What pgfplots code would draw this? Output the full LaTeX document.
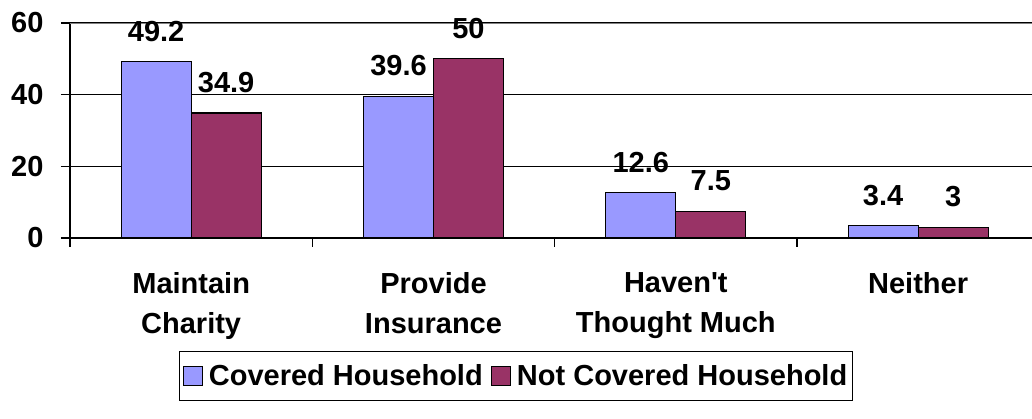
\documentclass[border=0pt]{standalone}
\usepackage{fontspec}
\setmainfont{Liberation Sans}
\newfontfamily\straight{Liberation Sans}
\usepackage{pgfplots}
\pgfplotsset{compat=1.18}
\definecolor{covc}{RGB}{153,153,255}
\definecolor{notc}{RGB}{153,51,102}
\begin{document}
\begin{tikzpicture}
\useasboundingbox (-70pt,-181pt) rectangle (962pt,238pt);
\begin{axis}[
  at={(0,0)}, anchor=south west,
  scale only axis, width=962pt, height=215pt,
  xmin=-0.5, xmax=3.47, ymin=0, ymax=60,
  axis x line*=bottom, axis y line*=left,
  axis line style={line width=1.2pt},
  ybar=0pt, bar width=70pt,
  ytick={0,20,40,60},
  ymajorgrids, grid style={black, line width=1.2pt},
  tick align=outside, major tick length=9pt,
  tick style={black, line width=1.2pt},
  /pgf/number format/assume math mode=true,
  ticklabel style={font=\fontsize{29}{36}\selectfont\bfseries},
  xtick={-0.5,0.5,1.5,2.5}, xticklabels={},
  extra x ticks={0,1,2,3},
  extra x tick labels={{Maintain\\Charity},{Provide\\Insurance},{Haven{\straight\bfseries'}t\\Thought Much},{Neither}},
  extra x tick style={major tick length=0pt, xticklabel style={align=center, anchor=north, yshift=-31pt, font=\fontsize{29}{40}\selectfont\bfseries}},
  yticklabel style={xshift=-14pt},
  nodes near coords,
  every node near coord/.append style={font=\fontsize{29}{34}\selectfont\bfseries, anchor=south, yshift=16pt},
  legend columns=2,
  legend style={at={(axis description cs:0.4636,-0.642)}, anchor=center, draw=black, line width=1.2pt,
    font=\fontsize{29}{34}\selectfont\bfseries, inner xsep=3pt, inner ysep=11pt,
    /tikz/every odd column/.append style={column sep=4pt},
    /tikz/every even column/.append style={column sep=6pt}},
  legend image code/.code={\draw[#1, line width=1.2pt] (0pt,-9.5pt) rectangle (19pt,9.5pt);},
]
\addplot[fill=covc, draw=black, line width=1.2pt] coordinates {(0,49.2) (1,39.6) (2,12.6) (3,3.4)};
\addplot[fill=notc, draw=black, line width=1.2pt] coordinates {(0,34.9) (1,50) (2,7.5) (3,3)};
\legend{Covered Household, Not Covered Household}
\draw[gray, line width=1.2pt] (axis cs:-0.5,60) -- (axis cs:3.47,60);
\end{axis}
\end{tikzpicture}
\end{document}
